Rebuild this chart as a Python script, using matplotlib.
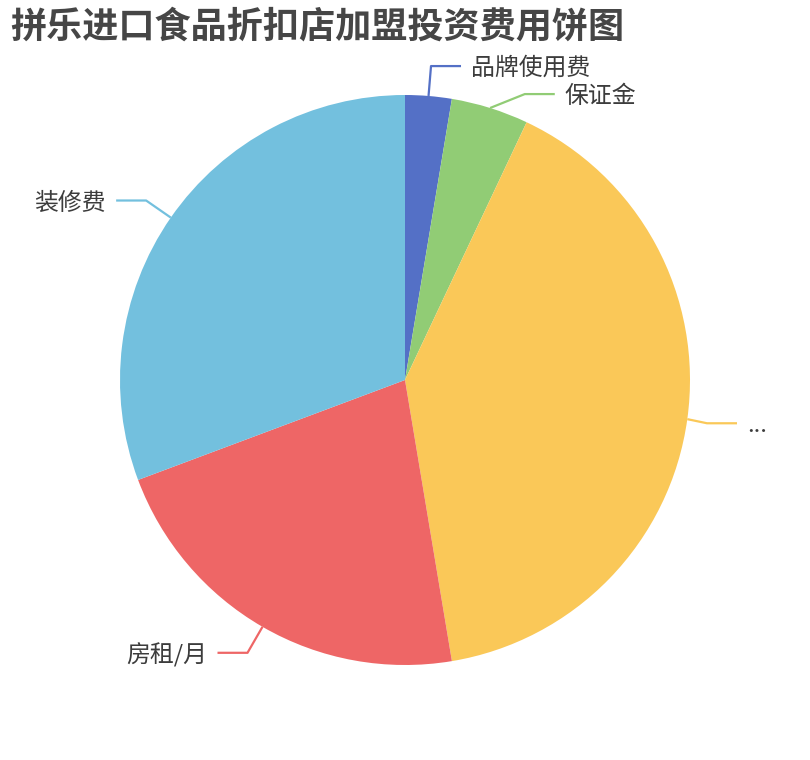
import numpy as np
import matplotlib
matplotlib.use("Agg")
import matplotlib.pyplot as plt

plt.rcParams["font.family"] = ["Noto Sans CJK SC", "DejaVu Sans"]

# ---- data ---------------------------------------------------------------
title = "拼乐进口食品折扣店加盟投资费用饼图"
names = ["品牌使用费", "保证金", "...", "房租/月", "装修费"]
values = [0.6, 1.0, 9.2, 5.0, 7.0]
colors = ["#5470c6", "#91cc75", "#fac858", "#ee6666", "#73c0de"]

# ---- layout (pixel space) -----------------------------------------------
W, H = 810, 760
cx, cy = 405, 380
radius = 285
len1, len2, gap = 30, 30, 10
right_limit = 737

fig = plt.figure(figsize=(W / 100, H / 100), dpi=100)
ax = fig.add_axes([0, 0, 1, 1])
wedges, _ = ax.pie(values, colors=colors, startangle=90, counterclock=False,
                   radius=radius, center=(cx, cy), frame=False)
ax.set_xlim(0, W)
ax.set_ylim(0, H)
ax.set_aspect("equal")
ax.axis("off")

# label line geometry from wedge angles
labels = []
for w, name, col in zip(wedges, names, colors):
    mid = np.deg2rad((w.theta1 + w.theta2) / 2)
    d = np.array([np.cos(mid), np.sin(mid)])
    edge = np.array([cx, cy]) + radius * d
    elbow = np.array([cx, cy]) + (radius + len1) * d
    labels.append(dict(name=name, col=col, edge=edge, elbow=elbow,
                       right=d[0] >= 0))

# push overlapping labels on the right side apart
R = radius + len1 - 5
right = sorted([l for l in labels if l["right"]], key=lambda l: -l["elbow"][1])
for prev, cur in zip(right, right[1:]):
    if prev["elbow"][1] - cur["elbow"][1] < 28:
        y = prev["elbow"][1] - 28
        cur["elbow"] = np.array([cx + np.sqrt(max(R**2 - (y - cy)**2, 0)), y])

for l in labels:
    ex, ey = l["elbow"]
    if l["right"]:
        end = ex + len2
        if end > right_limit:
            end = right_limit
            ex = end - len2
        tx, ha = end + gap, "left"
    else:
        end = ex - len2
        tx, ha = end - gap, "right"
    ax.plot([l["edge"][0], ex, end], [l["edge"][1], ey, ey],
            color=l["col"], lw=1.6, solid_capstyle="butt")
    ax.text(tx, ey, l["name"], ha=ha, va="center_baseline",
            fontsize=17.2, color="#3c3c3c")

ax.text(10, H - 23, title, ha="left", va="center_baseline", fontsize=26,
        fontweight="bold", color="#464646")

fig.savefig("out.png", dpi=100)
